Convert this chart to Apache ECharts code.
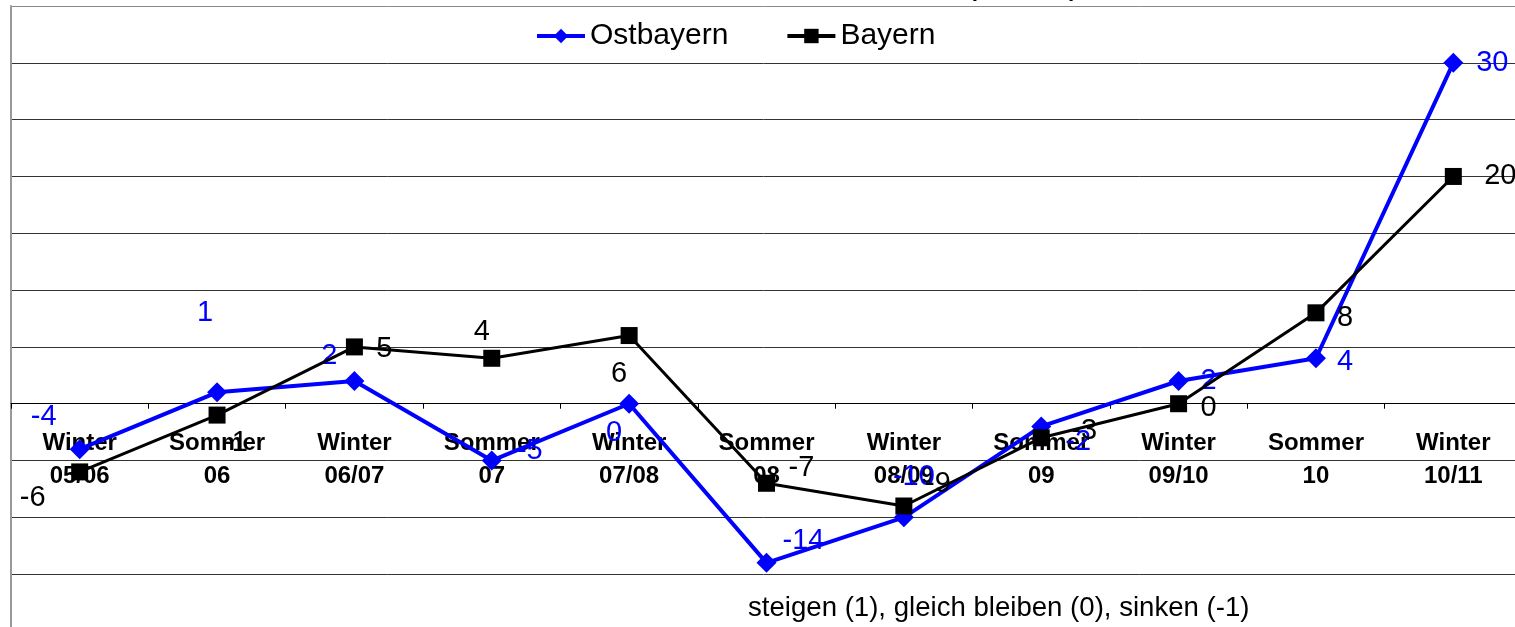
<!DOCTYPE html>
<html>
<head>
<meta charset="utf-8">
<script src="https://cdn.jsdelivr.net/npm/echarts@6/dist/echarts.min.js"></script>
<style>
  html, body { margin: 0; padding: 0; background: #fff; }
  #chart { width: 1515px; height: 627px; }
</style>
</head>
<body>
<div id="chart"></div>
<script>
// Daten
var categories = ["Winter\n05/06", "Sommer\n06", "Winter\n06/07", "Sommer\n07", "Winter\n07/08",
  "Sommer\n08", "Winter\n08/09", "Sommer\n09", "Winter\n09/10", "Sommer\n10", "Winter\n10/11"];
var ostbayern = [-4, 1, 2, -5, 0, -14, -10, -2, 2, 4, 30];
var bayern = [-6, -1, 5, 4, 6, -7, -9, -3, 0, 8, 20];

// Lage der Beschriftungen (wie im Original verschoben)
var ostOffsets = [[-36, -32], [-12, -79], [-25, -25], [38, -10], [-15, 29], [37, -22],
  [10, -40], [37, 16], [30, 0], [29, 4], [39, 0]];
var bayOffsets = [[-47, 26], [18, 28], [30, 2], [-10, -26], [-10, 38], [35, -15],
  [34, -22], [43, -7], [30, 4], [29, 5], [47, 0]];

function withLabels(values, offsets) {
  return values.map(function (v, i) {
    return { value: v, label: { offset: offsets[i] } };
  });
}

var myChart = echarts.init(document.getElementById("chart"));

var option = {
  animation: false,
  backgroundColor: "#fff",
  textStyle: { fontFamily: "Liberation Sans, Arial, sans-serif" },
  legend: {
    top: 21,
    left: 535,
    padding: 0,
    itemWidth: 48,
    itemHeight: 18,
    itemGap: 57,
    textStyle: { fontSize: 30, color: "#000", fontFamily: "Liberation Sans" },
    data: [
      { name: "Ostbayern", lineStyle: { width: 4 } },
      { name: "Bayern", lineStyle: { width: 4 } }
    ]
  },
  graphic: [
    {
      type: "text",
      left: 965,
      top: -35,
      style: { text: "(Saldo)", font: "36px Liberation Sans", fill: "#000" }
    },
    {
      type: "text",
      left: 748,
      top: 594,
      style: { text: "steigen (1), gleich bleiben (0), sinken (-1)", font: "27.6px Liberation Sans", fill: "#000" }
    }
  ],
  grid: { left: 11, right: -7, top: 6, bottom: -4, containLabel: false, outerBoundsMode: "none" },
  xAxis: {
    type: "category",
    data: categories,
    axisLine: { onZero: true, lineStyle: { color: "#000", width: 1 } },
    axisTick: { show: true, length: 5, lineStyle: { color: "#000" } },
    axisLabel: {
      interval: 0,
      margin: -204,
      fontSize: 24,
      fontWeight: "bold",
      lineHeight: 33,
      color: "#000",
      fontFamily: "Liberation Sans"
    }
  },
  yAxis: {
    type: "value",
    min: -20,
    max: 35,
    interval: 5,
    axisLabel: { show: false },
    axisTick: { show: false },
    axisLine: { show: true, lineStyle: { color: "#999", width: 2 } },
    splitLine: {
      lineStyle: {
        color: ["#333", "#333", "#333", "#333", "#333", "#333", "#333", "#333", "#333", "#333", "#333", "#888"],
        width: 1
      }
    }
  },
  series: [
    {
      name: "Ostbayern",
      type: "line",
      data: withLabels(ostbayern, ostOffsets),
      symbol: "diamond",
      symbolSize: 20,
      z: 3,
      lineStyle: { color: "#0000ff", width: 4 },
      itemStyle: { color: "#0000ff" },
      label: {
        show: true,
        position: "inside",
        fontSize: 29,
        color: "#0000ff",
        fontFamily: "Liberation Sans"
      }
    },
    {
      name: "Bayern",
      type: "line",
      data: withLabels(bayern, bayOffsets),
      symbol: "rect",
      symbolSize: 17,
      z: 4,
      lineStyle: { color: "#000", width: 3 },
      itemStyle: { color: "#000" },
      label: {
        show: true,
        position: "inside",
        fontSize: 29,
        color: "#000",
        fontFamily: "Liberation Sans"
      }
    }
  ]
};

myChart.setOption(option);
</script>
</body>
</html>
